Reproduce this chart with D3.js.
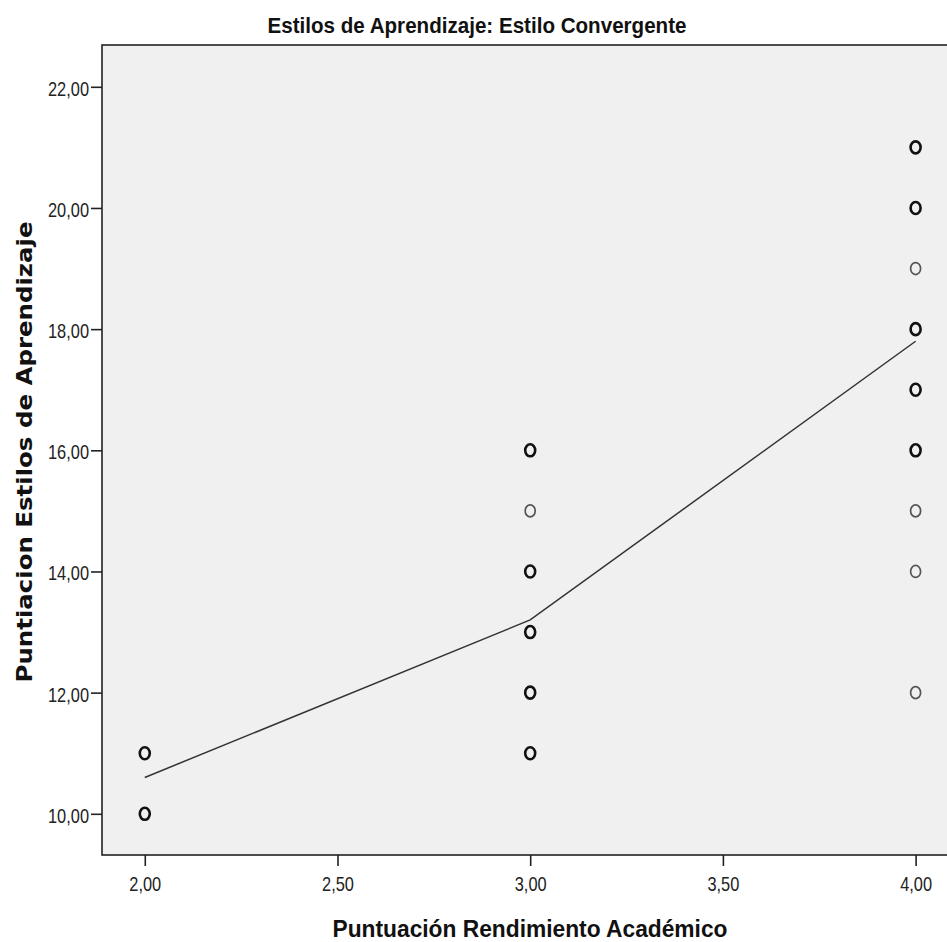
<!DOCTYPE html>
<html>
<head>
<meta charset="utf-8">
<script src="https://cdn.jsdelivr.net/npm/d3@7"></script>
<style>
  body { margin: 0; background: #fff; }
  text { font-family: "Liberation Sans", Arial, sans-serif; }
</style>
</head>
<body>
<div id="chart"></div>
<script>
// observed points: x value, y value, how many cases overlap
const pointX = [2, 2, 3, 3, 3, 3, 3, 3, 4, 4, 4, 4, 4, 4, 4, 4, 4];
const pointY = [11, 10, 16, 15, 14, 13, 12, 11, 21, 20, 19, 18, 17, 16, 15, 14, 12];
const pointN = [3, 2, 2, 1, 2, 3, 3, 2, 2, 3, 1, 2, 2, 2, 1, 1, 1];

// line through group means
const meanX = [2, 3, 4];
const meanY = [10.6, 13.2, 17.8];

const xTicks = [2, 2.5, 3, 3.5, 4];
const yTicks = [10, 12, 14, 16, 18, 20, 22];

const width = 947;
const height = 942;
const margin = { left: 102, top: 45, right: -11, bottom: 87 };
const narrow = 0.82; // squeeze to mimic a narrow face

const svg = d3.select('#chart')
  .append('svg')
  .attr('width', width)
  .attr('height', height);

const x = d3.scaleLinear()
  .domain([1.889, 4.11])
  .range([margin.left, width - margin.right]);

const y = d3.scaleLinear()
  .domain([9.32, 22.69])
  .range([height - margin.bottom, margin.top]);

const fmt = d => d3.format('.2f')(d).replace('.', ',');

// plot background
svg.append('rect')
  .attr('x', margin.left)
  .attr('y', margin.top)
  .attr('width', width - margin.right - margin.left)
  .attr('height', height - margin.bottom - margin.top)
  .attr('fill', '#f0f0f0')
  .attr('stroke', '#222')
  .attr('stroke-width', 1.6);

// axes
const gx = svg.append('g')
  .attr('transform', `translate(0,${height - margin.bottom})`)
  .call(d3.axisBottom(x).tickValues(xTicks).tickSize(11).tickFormat(fmt));
gx.select('.domain').remove();
gx.selectAll('line').attr('stroke', '#222').attr('stroke-width', 1.6);
gx.selectAll('text')
  .attr('y', 22)
  .attr('transform', `scale(${narrow},1)`)
  .style('font-size', '20px')
  .style('fill', '#222');

const gy = svg.append('g')
  .attr('transform', `translate(${margin.left},0)`)
  .call(d3.axisLeft(y).tickValues(yTicks).tickSize(11).tickFormat(fmt));
gy.select('.domain').remove();
gy.selectAll('line').attr('stroke', '#222').attr('stroke-width', 1.6);
gy.selectAll('text')
  .attr('x', -13 / narrow)
  .attr('dy', '0.42em')
  .attr('transform', `scale(${narrow},1)`)
  .style('font-size', '20px')
  .style('fill', '#222');

// mean line
svg.append('path')
  .datum(meanX.map((d, i) => [d, meanY[i]]))
  .attr('fill', 'none')
  .attr('stroke', '#333')
  .attr('stroke-width', 1.5)
  .attr('d', d3.line().x(d => x(d[0])).y(d => y(d[1])));

// points, overlapping cases drawn darker
svg.append('g')
  .selectAll('ellipse')
  .data(pointX.map((d, i) => ({ x: d, y: pointY[i], n: pointN[i] })))
  .enter()
  .append('ellipse')
  .attr('cx', d => x(d.x))
  .attr('cy', d => y(d.y))
  .attr('rx', 5)
  .attr('ry', 6)
  .attr('fill', 'none')
  .attr('stroke', d => d.n > 1 ? '#111' : '#555')
  .attr('stroke-width', d => d.n > 1 ? 2.6 : 1.7);

// title
svg.append('text')
  .attr('x', 477)
  .attr('y', 33)
  .attr('text-anchor', 'middle')
  .attr('textLength', 419)
  .attr('lengthAdjust', 'spacingAndGlyphs')
  .style('font-size', '22px')
  .style('font-weight', 'bold')
  .style('fill', '#111')
  .text('Estilos de Aprendizaje: Estilo Convergente');

// axis titles
svg.append('text')
  .attr('x', 530)
  .attr('y', 937)
  .attr('text-anchor', 'middle')
  .attr('textLength', 395)
  .attr('lengthAdjust', 'spacingAndGlyphs')
  .style('font-size', '24px')
  .style('font-weight', 'bold')
  .style('fill', '#111')
  .text('Puntuación Rendimiento Académico');

svg.append('text')
  .attr('transform', 'translate(32,452) rotate(-90)')
  .attr('text-anchor', 'middle')
  .attr('textLength', 461)
  .attr('lengthAdjust', 'spacingAndGlyphs')
  .style('font-family', '"DejaVu Sans", sans-serif')
  .style('font-size', '21px')
  .style('font-weight', 'bold')
  .style('fill', '#111')
  .text('Puntiacion Estilos de Aprendizaje');
</script>
</body>
</html>
